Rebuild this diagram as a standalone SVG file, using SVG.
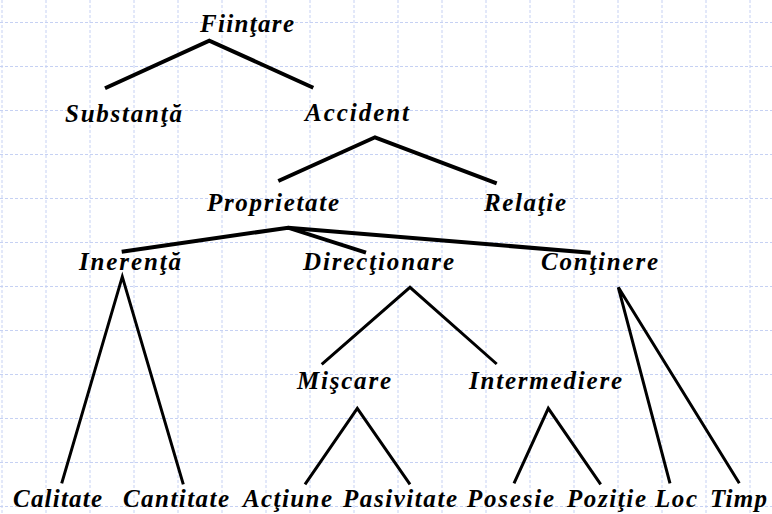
<svg xmlns="http://www.w3.org/2000/svg" width="772" height="514" viewBox="0 0 772 514">
<defs>
<style>
.grid line{stroke:#c6d1f3;stroke-width:1;stroke-dasharray:3 2}
.lbl{font-family:"Liberation Serif","Times New Roman",serif;font-size:25px;font-weight:bold;font-style:italic;fill:#000}
.c1{stroke:#000;stroke-width:4;fill:none;stroke-linecap:butt}
.c2{stroke:#000;stroke-width:3;fill:none;stroke-linecap:butt}
</style>
</defs>
<rect width="772" height="514" fill="#fff"/>
<g class="grid">
<line x1="2" y1="0" x2="2" y2="514"/><line x1="46" y1="0" x2="46" y2="514"/><line x1="90" y1="0" x2="90" y2="514"/><line x1="134" y1="0" x2="134" y2="514"/><line x1="178" y1="0" x2="178" y2="514"/><line x1="222" y1="0" x2="222" y2="514"/><line x1="266" y1="0" x2="266" y2="514"/><line x1="310" y1="0" x2="310" y2="514"/><line x1="354" y1="0" x2="354" y2="514"/><line x1="398" y1="0" x2="398" y2="514"/><line x1="442" y1="0" x2="442" y2="514"/><line x1="486" y1="0" x2="486" y2="514"/><line x1="530" y1="0" x2="530" y2="514"/><line x1="574" y1="0" x2="574" y2="514"/><line x1="618" y1="0" x2="618" y2="514"/><line x1="662" y1="0" x2="662" y2="514"/><line x1="706" y1="0" x2="706" y2="514"/><line x1="750" y1="0" x2="750" y2="514"/>
<line x1="0" y1="22.5" x2="772" y2="22.5"/><line x1="0" y1="66.5" x2="772" y2="66.5"/><line x1="0" y1="110.5" x2="772" y2="110.5"/><line x1="0" y1="154.5" x2="772" y2="154.5"/><line x1="0" y1="198.5" x2="772" y2="198.5"/><line x1="0" y1="242.5" x2="772" y2="242.5"/><line x1="0" y1="286.5" x2="772" y2="286.5"/><line x1="0" y1="330.5" x2="772" y2="330.5"/><line x1="0" y1="374.5" x2="772" y2="374.5"/><line x1="0" y1="418.5" x2="772" y2="418.5"/><line x1="0" y1="462.5" x2="772" y2="462.5"/><line x1="0" y1="506.5" x2="772" y2="506.5"/>
</g>
<g id="connectors">
<polyline class="c1" points="105,88.3 209.3,40.7 313.3,87.7"/>
<polyline class="c1" points="278.3,181 375,137.3 496.7,183.3"/>
<polyline class="c1" points="121.7,251.7 288,227.7 366,252.7"/>
<line class="c1" x1="288" y1="227.7" x2="590.7" y2="252.7"/>
<polyline class="c2" points="61.7,483.3 122.3,276.7 183.3,484.3"/>
<polyline class="c2" points="321.7,364.3 410,287.3 496.7,364"/>
<polyline class="c2" points="670,483.3 618.3,287.3 739.3,483.3"/>
<polyline class="c2" points="305,484.3 357.3,408.3 410,484.3"/>
<polyline class="c2" points="514,483.3 548.3,408.3 600.7,484.3"/>
</g>
<g id="fiintare"><text class="lbl" x="200" y="32" textLength="94" lengthAdjust="spacing">Fiinţare</text></g>
<g id="substanta"><text class="lbl" x="65" y="121.5" textLength="117" lengthAdjust="spacing">Substanţă</text></g>
<g id="accident"><text class="lbl" x="305" y="121" textLength="104" lengthAdjust="spacing">Accident</text></g>
<g id="proprietate"><text class="lbl" x="207" y="211" textLength="132" lengthAdjust="spacing">Proprietate</text></g>
<g id="relatie"><text class="lbl" x="484" y="211" textLength="82" lengthAdjust="spacing">Relaţie</text></g>
<g id="inerenta"><text class="lbl" x="79" y="269.5" textLength="102" lengthAdjust="spacing">Inerenţă</text></g>
<g id="directionare"><text class="lbl" x="303" y="269.5" textLength="151" lengthAdjust="spacing">Direcţionare</text></g>
<g id="continere"><text class="lbl" x="541" y="269.5" textLength="117" lengthAdjust="spacing">Conţinere</text></g>
<g id="miscare"><text class="lbl" x="297" y="389" textLength="94" lengthAdjust="spacing">Mişcare</text></g>
<g id="intermediere"><text class="lbl" x="469" y="389" textLength="153" lengthAdjust="spacing">Intermediere</text></g>
<g id="calitate"><text class="lbl" x="13" y="507" textLength="89" lengthAdjust="spacing">Calitate</text></g>
<g id="cantitate"><text class="lbl" x="123" y="507" textLength="106" lengthAdjust="spacing">Cantitate</text></g>
<g id="actiune"><text class="lbl" x="243" y="507" textLength="89" lengthAdjust="spacing">Acţiune</text></g>
<g id="pasivitate"><text class="lbl" x="343" y="507" textLength="114" lengthAdjust="spacing">Pasivitate</text></g>
<g id="posesie"><text class="lbl" x="467" y="507" textLength="87" lengthAdjust="spacing">Posesie</text></g>
<g id="pozitie"><text class="lbl" x="567" y="507" textLength="79" lengthAdjust="spacing">Poziţie</text></g>
<g id="loc"><text class="lbl" x="655" y="507" textLength="42" lengthAdjust="spacing">Loc</text></g>
<g id="timp"><text class="lbl" x="710" y="507" textLength="57" lengthAdjust="spacing">Timp</text></g>
</svg>
